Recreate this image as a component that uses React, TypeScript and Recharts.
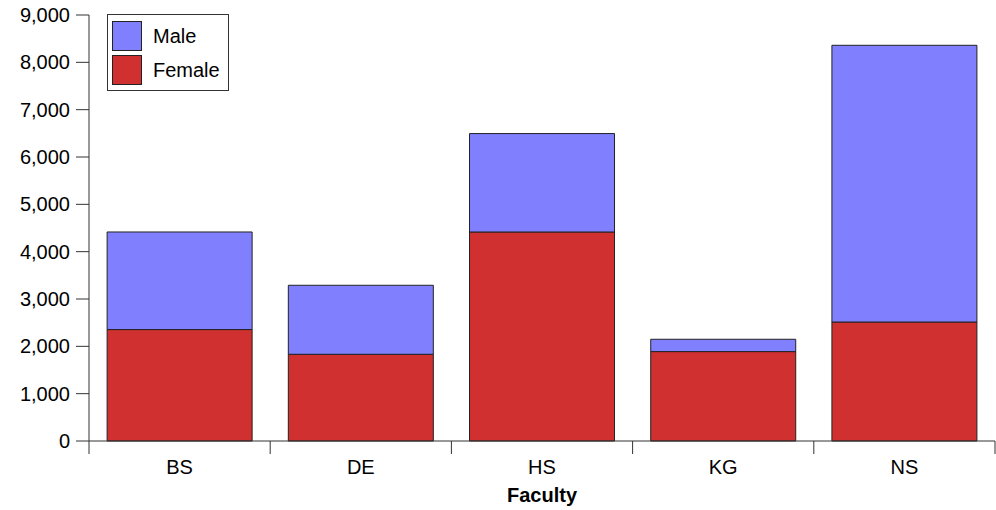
import { BarChart, Bar, XAxis, YAxis, Legend } from 'recharts';

// #region Sample data
const faculties = ['BS', 'DE', 'HS', 'KG', 'NS'];
const female = [2354, 1832, 4416, 1889, 2514];
const male = [2062, 1458, 2079, 260, 5846];
const yTicks = [0, 1000, 2000, 3000, 4000, 5000, 6000, 7000, 8000, 9000];

const data = faculties.map((name, i) => ({
  name,
  Female: female[i],
  Male: male[i],
}));
// #endregion

const FONT = '"Liberation Sans", Arial, sans-serif';
const AXIS = '#333';
const W = 996;
const H = 510;
const Y_W = 89;
const M = { top: 15, right: 1, left: 0, bottom: 9 };
const BAND = (W - M.left - M.right - Y_W) / faculties.length;
const TICK_SIZE = 13;
const TICK_MARGIN = 6;

const FacultyTick = (props: any) => {
  const { x, y, payload, index } = props;
  const top = y - TICK_MARGIN - TICK_SIZE;
  const bottom = y - TICK_MARGIN;
  return (
    <g>
      <line x1={x - BAND / 2} x2={x - BAND / 2} y1={top} y2={bottom} stroke={AXIS} />
      {index === faculties.length - 1 && (
        <line x1={x + BAND / 2} x2={x + BAND / 2} y1={top} y2={bottom} stroke={AXIS} />
      )}
      <text x={x} y={y} dy="0.71em" textAnchor="middle" fill="#000" fontSize={20} fontFamily={FONT}>
        {payload.value}
      </text>
    </g>
  );
};

const LegendBox = (props: any) => {
  const items = [...(props.payload || [])].reverse();
  return (
    <div
      style={{
        width: 112,
        border: `1px solid ${AXIS}`,
        background: '#fff',
        padding: '4px 4px 3px 4px',
        fontFamily: FONT,
        fontSize: 20,
      }}
    >
      {items.map((it: any) => (
        <div key={it.value} style={{ display: 'flex', alignItems: 'center', height: 34 }}>
          <span
            style={{
              width: 28,
              height: 28,
              background: it.color,
              border: '1px solid #222',
              marginRight: 11,
              display: 'inline-block',
              flexShrink: 0,
            }}
          />
          <span style={{ color: '#000' }}>{it.value}</span>
        </div>
      ))}
    </div>
  );
};

const App = () => {
  return (
    <div style={{ position: 'absolute', left: 0, top: 0, background: '#fff' }}>
      <BarChart width={W} height={H} data={data} margin={M} barCategoryGap="10%">
        <XAxis
          dataKey="name"
          height={60}
          tickLine={false}
          tickSize={TICK_SIZE}
          tickMargin={TICK_MARGIN}
          axisLine={{ stroke: AXIS }}
          tick={<FacultyTick />}
          label={{
            value: 'Faculty',
            position: 'insideBottom',
            offset: -1,
            fill: '#000',
            fontSize: 20,
            fontWeight: 'bold',
            fontFamily: FONT,
          }}
        />
        <YAxis
          width={Y_W}
          domain={[0, 9000]}
          ticks={yTicks}
          interval={0}
          tickSize={TICK_SIZE}
          tickMargin={6}
          axisLine={{ stroke: AXIS }}
          tickLine={{ stroke: AXIS }}
          tick={{ fill: '#000', fontSize: 20, fontFamily: FONT }}
          tickFormatter={(v: number) => v.toLocaleString('en-US')}
        />
        <Legend
          layout="horizontal"
          verticalAlign="middle"
          align="center"
          wrapperStyle={{ left: 107, top: 14, width: 'auto', height: 'auto' }}
          content={<LegendBox />}
        />
        <Bar dataKey="Female" stackId="a" fill="#D13030" stroke="#222" strokeWidth={1} isAnimationActive={false} />
        <Bar dataKey="Male" stackId="a" fill="#8080FF" stroke="#222" strokeWidth={1} isAnimationActive={false} />
      </BarChart>
    </div>
  );
};

export default App;
